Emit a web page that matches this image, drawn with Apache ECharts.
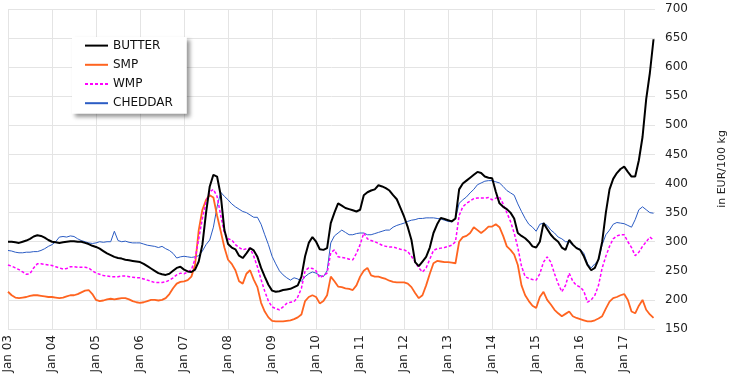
<!DOCTYPE html>
<html>
<head>
<meta charset="utf-8">
<script src="https://cdn.jsdelivr.net/npm/echarts@6/dist/echarts.min.js"></script>
<style>html,body{margin:0;padding:0;background:#fff}#c{width:736px;height:383px}</style>
</head>
<body>
<div id="c"></div>
<script>
// Monthly observations, Jan 2003 .. Sep 2017 (EUR/100 kg)
const startYear = 2003;
const seriesNames = ['BUTTER', 'SMP', 'WMP', 'CHEDDAR'];
const butter = [
  300,300,299,298,300,302,305,309,311,310,307,303,
  300,299,298,299,300,301,301,300,300,298,296,293,
  291,288,284,280,277,274,272,271,269,268,267,266,
  265,262,258,254,250,246,244,243,245,250,255,257,
  252,249,248,252,266,295,350,395,415,412,380,320,
  296,290,287,276,272,280,289,285,274,255,240,226,
  216,214,215,217,218,219,222,225,240,275,298,308,
  300,287,286,289,332,350,366,362,358,356,354,352,
  355,380,385,388,390,397,395,392,388,380,373,358,
  343,325,303,265,258,266,274,290,315,330,341,339,
  337,335,340,390,400,405,410,415,420,418,412,410,
  409,386,366,360,356,350,340,315,310,306,300,292,
  290,300,332,322,312,305,300,290,286,303,295,289,
  286,275,260,251,255,270,300,350,390,408,418,425,
  429,420,412,412,440,480,545,590,648
];
const smp = [
  214,208,204,203,204,205,207,208,208,207,206,205,
  205,204,203,204,206,208,208,210,213,216,217,210,
  200,198,199,201,202,201,202,203,203,201,198,196,
  195,196,198,200,200,199,200,203,210,220,228,231,
  232,234,240,260,320,355,372,380,376,345,318,290,
  269,262,251,232,228,245,251,235,222,195,180,170,
  164,163,163,163,164,165,167,170,175,198,205,208,
  205,194,198,208,240,232,223,222,220,219,217,225,
  240,250,255,242,240,240,238,236,233,231,230,230,
  230,228,222,212,203,208,225,245,263,267,266,265,
  265,264,263,300,308,310,315,325,320,315,320,326,
  326,330,325,310,292,286,278,260,225,208,198,190,
  186,205,214,200,192,183,177,172,176,180,172,169,
  167,165,163,163,165,168,172,185,197,203,205,208,
  210,200,180,177,190,200,183,175,169
];
const wmp = [
  260,258,255,252,248,244,245,255,262,262,261,260,
  259,257,255,253,254,257,257,256,256,256,255,250,
  246,244,242,241,240,240,240,241,241,240,239,238,
  238,236,234,232,230,230,230,231,234,238,243,246,
  245,248,252,270,305,340,368,386,390,378,345,315,
  305,303,295,290,286,288,289,275,257,235,215,198,
  188,185,183,188,194,196,197,205,220,250,255,254,
  250,238,242,246,281,286,274,273,272,270,269,280,
  295,315,305,302,300,297,294,292,291,291,289,287,
  286,283,275,265,255,248,255,270,285,288,289,290,
  292,294,300,345,360,366,370,374,375,375,375,376,
  372,375,377,365,350,335,315,290,258,240,237,235,
  234,245,265,274,265,245,228,214,225,246,232,225,
  222,215,196,200,208,225,255,275,292,305,310,312,
  312,300,290,276,282,292,300,308,303
];
const cheddar = [
  285,284,282,281,281,282,282,283,283,285,288,292,
  295,300,308,309,308,310,309,305,302,300,298,297,
  298,300,299,300,300,318,302,300,301,299,298,298,
  298,296,294,293,292,290,292,288,285,280,272,274,
  275,274,273,274,276,284,295,303,325,360,385,378,
  372,365,360,356,352,350,346,342,342,330,312,295,
  275,262,250,243,238,234,238,236,232,240,245,248,
  246,242,240,250,298,310,315,320,316,312,312,314,
  315,315,312,312,314,316,318,320,320,325,328,330,
  332,335,337,338,340,340,341,341,341,340,339,337,
  335,334,340,366,372,377,384,390,398,401,404,405,
  405,403,401,395,388,384,380,365,352,340,330,325,
  318,330,332,328,320,315,308,305,300,300,294,290,
  287,280,262,255,262,268,295,312,320,330,333,332,
  331,328,325,338,355,360,355,350,349
];
const yTicks = {min: 150, max: 700, step: 50};
const yName = 'in EUR/100 kg';

function pairs(vals) {
  return vals.map((v, i) => [startYear + i / 12, v]);
}
const FONT = 'DejaVu Sans';
const chart = echarts.init(document.getElementById('c'), null, {renderer: 'canvas'});
chart.setOption({
  animation: false,
  backgroundColor: '#fff',
  grid: {left: 8, right: 71, top: 9, bottom: 54, containLabel: false},
  legend: {
    data: seriesNames,
    orient: 'vertical',
    left: 72, top: 37,
    padding: [2, 14, 4, 12],
    itemGap: 6,
    itemWidth: 23,
    itemHeight: 14,
    backgroundColor: '#fff',
    shadowColor: 'rgba(0,0,0,0.4)',
    shadowBlur: 4,
    shadowOffsetX: 3,
    shadowOffsetY: 3,
    itemStyle: {opacity: 0},
    textStyle: {fontFamily: FONT, fontSize: 12, color: '#111'}
  },
  xAxis: {
    type: 'value',
    min: 2003,
    max: 2017.7,
    interval: 1,
    axisLine: {show: false},
    axisTick: {show: false},
    splitLine: {show: true, showMaxLine: false, lineStyle: {color: '#e4e4e4', width: 1}},
    axisLabel: {
      rotate: 90,
      margin: 6,
      showMaxLabel: false,
      fontFamily: FONT, fontSize: 12, color: '#222',
      formatter: v => Number.isInteger(v) ? 'Jan ' + String(v).slice(2) : ''
    }
  },
  yAxis: {
    type: 'value',
    position: 'right',
    min: yTicks.min, max: yTicks.max, interval: yTicks.step,
    name: yName,
    nameLocation: 'middle',
    nameRotate: 90,
    nameGap: 62,
    nameTextStyle: {fontFamily: FONT, fontSize: 11, color: '#222'},
    axisLine: {show: false},
    axisTick: {show: false},
    splitLine: {lineStyle: {color: '#e4e4e4', width: 1}},
    axisLabel: {margin: 10, fontFamily: FONT, fontSize: 12, color: '#222'}
  },
  series: [
    {name: 'BUTTER', type: 'line', data: pairs(butter), showSymbol: false, z: 5,
     lineStyle: {color: '#000', width: 2}, itemStyle: {color: '#000'}},
    {name: 'SMP', type: 'line', data: pairs(smp), showSymbol: false, z: 3,
     lineStyle: {color: '#ff6420', width: 1.8}, itemStyle: {color: '#ff6420'}},
    {name: 'WMP', type: 'line', data: pairs(wmp), showSymbol: false, z: 4,
     lineStyle: {color: '#ff00ff', width: 1.5, type: [3, 2]}, itemStyle: {color: '#ff00ff'}},
    {name: 'CHEDDAR', type: 'line', data: pairs(cheddar), showSymbol: false, z: 2,
     lineStyle: {color: '#2b5cc4', width: 1}, itemStyle: {color: '#2b5cc4'}}
  ]
});
</script>
</body>
</html>
